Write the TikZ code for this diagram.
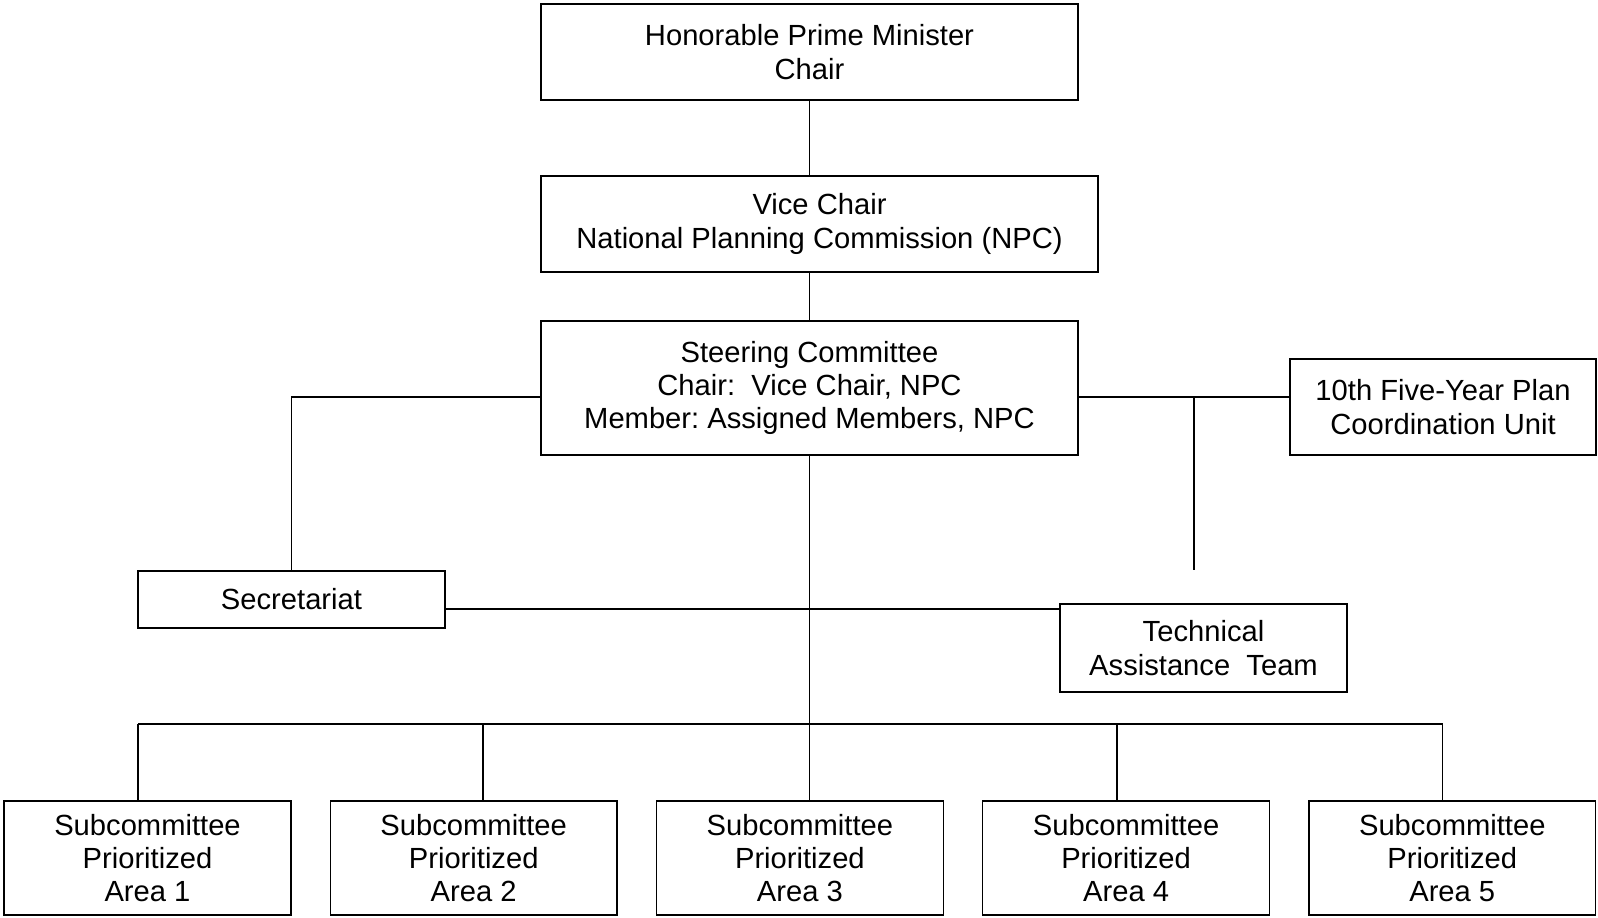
\documentclass[tikz,border=0pt]{standalone}
\usepackage{fontspec}
\setmainfont{Liberation Sans}
\frenchspacing
\usepackage{tikz}
\usetikzlibrary{positioning}
\tikzset{
  unit/.style={draw, line width=0.8pt, align=center, inner sep=0pt, minimum height=1.92cm, font=\fontsize{16.6}{19}\selectfont},
  sub/.style={unit, minimum width=5.74cm, minimum height=2.28cm},
  link/.style={line width=0.8pt},
}

\begin{document}
\begin{tikzpicture}[x=0.02cm, y=-0.02cm]
    \useasboundingbox (0,0) rectangle (1598,917);
    \node[unit, minimum width=10.74cm] (pm) at (809.5,52) {Honorable Prime Minister\\Chair};
    \node[unit, minimum width=11.14cm] (vc) at (819.5,224) {Vice Chair\\National Planning Commission (NPC)};
    \node[unit, minimum width=10.74cm, minimum height=2.68cm] (sc) at (809.5,388) {Steering Committee\\Chair:\ \ Vice Chair, NPC\\Member: Assigned Members, NPC};
    \node[unit, minimum width=6.12cm] (fyp) at (1443,407) {10th Five-Year Plan\\Coordination Unit};
    \node[unit, minimum width=6.14cm, minimum height=1.14cm] (sec) at (291.5,599.5) {Secretariat};
    \node[unit, minimum width=5.74cm, minimum height=1.76cm] (tat) at (1203.5,648) {Technical\\Assistance\ \ Team};
    \node[sub] (a1) at (147.5,858) {Subcommittee\\Prioritized\\Area 1};
    \node[sub, right=0.757cm of a1] (a2) {Subcommittee\\Prioritized\\Area 2};
    \node[sub, right=0.757cm of a2] (a3) {Subcommittee\\Prioritized\\Area 3};
    \node[sub, right=0.757cm of a3] (a4) {Subcommittee\\Prioritized\\Area 4};
    \node[sub, right=0.757cm of a4] (a5) {Subcommittee\\Prioritized\\Area 5};
    \coordinate (lx) at ([yshift=-0.18cm]sc.west);
    \coordinate (rx) at ([yshift=-0.18cm]sc.east);
    \coordinate (tap) at (1194,570);
    \coordinate (bus) at (810,724);
    % upper chain
    \draw[link] (pm.south) -- (pm.south |- vc.north);
    \draw[link] (sc.north |- vc.south) -- (sc.north);
    \draw[link] (lx) -| (sec.north);
    \draw[link] (rx) -- (rx -| fyp.west);
    \draw[link] (rx -| tap) -- (tap);
    \draw[link] ([yshift=-0.19cm]sec.east) -- ([yshift=-0.19cm]sec.east -| tat.west);
    % subcommittees
    \draw[link] (sc.south) -- (sc.south |- a3.north);
    \draw[link] ([xshift=-0.19cm]a1.north |- bus) -- ([xshift=-0.19cm]a5.north |- bus);
    \foreach \n/\dx in {a1/-9.5,a2/9.25,a4/-9.25,a5/-9.5}{\draw[link] ([xshift=\dx*0.02cm]\n.north) -- ([xshift=\dx*0.02cm]\n.north |- bus);}
\end{tikzpicture}
\end{document}
